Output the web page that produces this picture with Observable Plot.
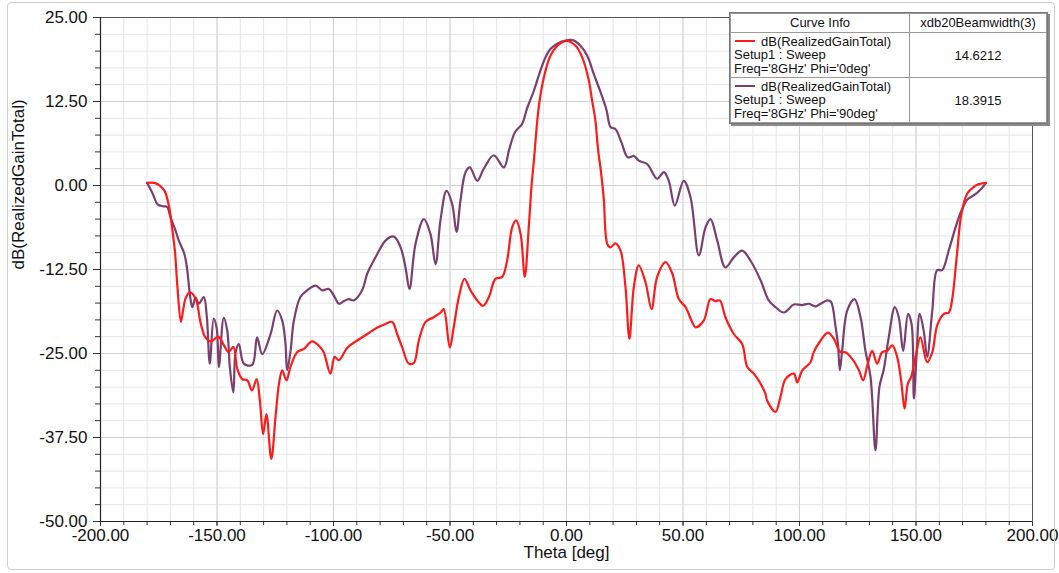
<!DOCTYPE html>
<html>
<head>
<meta charset="utf-8">
<script src="https://cdn.jsdelivr.net/npm/d3@7"></script>
<script src="https://cdn.jsdelivr.net/npm/@observablehq/plot@0.6"></script>
<style>
  html, body { margin: 0; padding: 0; background: #fff; }
  #wrap { position: relative; width: 1059px; height: 573px; overflow: hidden; font-family: "Liberation Sans", Arial, sans-serif; }
  #outer { position: absolute; left: 7px; top: 2px; width: 1046px; height: 566px; border: 1px solid #cfcfcf; border-radius: 4px; pointer-events: none; }
  #legend { position: absolute; left: 729px; top: 12px; background: #fff; border: 1px solid #777; box-shadow: 2px 2px 0 #8a8a8a; }
  #legend table { border-collapse: collapse; font-size: 13px; color: #111; }
  #legend td { border: 1px solid #9a9a9a; padding: 0 3px; }
  #legend .hdr td { height: 18px; text-align: center; line-height: 18px; }
  #legend .row td { height: 44px; }
  #legend .info { line-height: 13.5px; width: 172px; white-space: nowrap; }
  #legend .val { text-align: center; width: 130px; }
  #legend .sw { display: inline-block; width: 20px; height: 2px; vertical-align: middle; margin: 0 6px 0 1px; position: relative; top: -1px; }
</style>
</head>
<body>
<div id="wrap">
  <div id="chart"></div>
  <div id="outer"></div>
  <div id="legend"></div>
</div>
<script>
// ---- Data ----
const seriesNames = ["Freq='8GHz' Phi='0deg'", "Freq='8GHz' Phi='90deg'"];
const beamwidths = ["14.6212", "18.3915"];
const seriesColors = ["#ff1a1a", "#7b3f6f"];

const thetaPhi0 = [-180,-177,-175,-172.5,-170.5,-169,-168,-167,-165.5,-164.5,-163.5,-161.7,-159.2,-157,-155,-152.5,-149.5,-147,-145,-143,-141.3,-139.2,-137,-135,-133,-131.6,-130.2,-128.8,-126.7,-124.9,-123.4,-122,-120.2,-118.5,-115.6,-112.7,-109.2,-105.6,-104.2,-101.3,-99.5,-97.7,-94,-90,-85.5,-81,-77.7,-74.8,-72.7,-70.5,-67.7,-65.5,-63.4,-60.5,-57,-54,-52.7,-50.1,-48.4,-46.2,-43.8,-41.2,-38.3,-35.8,-33.3,-30.5,-27.6,-25.5,-23.3,-21.6,-19.7,-17.9,-16.2,-15,-14,-11.9,-9.7,-6.9,-3.3,0,3.9,6.7,9.6,11,12.4,13.5,14.8,16,17.5,18.9,21,23.2,25.3,27,28.9,31,33.9,36.5,38.9,42.5,45.4,48.2,51.1,53.9,55.4,58.9,61.8,63.9,65.8,68.2,71.8,75.4,77.6,80.4,83.3,85.4,86.1,89.7,91.8,94,97.6,99,101.2,104.7,106.1,109,112.2,114.7,117.6,119.7,122.6,125.5,127.3,129.3,131.2,133.3,135.5,137.6,139.8,141.9,143.6,145.1,146.5,147.9,149.8,151.9,154.8,157,159.1,162,164.1,165.5,167.5,169.5,172,174.8,177,180];
const gainPhi0 = [0.4,0.4,0.1,-0.8,-3.3,-7,-10,-15,-20.3,-18.5,-16.8,-15.9,-16.8,-20.5,-22.6,-23.2,-22.5,-23.8,-24.8,-24.0,-27.3,-28.8,-29.0,-30.5,-28.8,-32,-37,-34,-40.7,-34.5,-29.5,-27.5,-29,-27,-24.8,-24.3,-23.2,-24.1,-24.8,-28,-25.5,-26,-24.1,-23.1,-22.1,-21.1,-20.6,-20.3,-22.1,-24.1,-26.5,-26.4,-23.1,-20.3,-19.6,-18.9,-18.4,-24.1,-21.1,-16.6,-13.9,-15.6,-17.1,-17.9,-16.6,-13.9,-13.6,-11.2,-6.2,-5.2,-7.2,-13.6,-6.2,0,3.7,11.7,16.1,19.3,21.0,21.5,20.8,19.1,15.6,12.6,9.7,5.5,2,-2,-8.7,-9.2,-8.6,-9.7,-15.1,-22.8,-15.1,-11.9,-14.4,-18.4,-13.6,-11.4,-13.1,-16.9,-18.1,-20.3,-21.1,-20.1,-16.9,-17.2,-17.1,-19.6,-22.1,-23.6,-27,-28,-29.5,-31,-32,-33.7,-31.5,-28.8,-28,-29.3,-27.5,-26.3,-24.8,-23.1,-21.9,-22.8,-24.8,-24.8,-25.8,-27.5,-29,-26.5,-24.6,-26.5,-24.8,-24.6,-23.8,-25.5,-29,-33.2,-29.5,-28.5,-25.5,-22.6,-26.3,-24.8,-20.8,-19.1,-18.9,-17,-10.5,-4.2,-1.2,-0.2,0.2,0.4];

const thetaPhi90 = [-180,-177.5,-175.5,-173,-171.4,-170,-168,-166.4,-164,-162.8,-161.7,-160.6,-159.2,-157.8,-155.7,-154.4,-153.1,-151.4,-150.1,-149.2,-147.1,-145.6,-144.5,-143,-142,-140.6,-138.5,-134.9,-132.8,-130.6,-127,-124.2,-122,-120.6,-119.9,-118.5,-117,-114.2,-111.3,-107.7,-104.8,-102,-99.5,-97.7,-95.5,-93.4,-91.3,-87.7,-85.5,-81.2,-77.7,-74.1,-71.2,-69.1,-67.4,-64.8,-61.2,-58.4,-56.2,-54.1,-51.5,-49.1,-47.2,-45.5,-43.3,-41.5,-38.3,-35.5,-31.2,-26.9,-24.5,-22,-19,-16.9,-14,-11.2,-9,-6.9,-4,0,3,6,8.9,11.7,14.6,17.2,18.9,21,23.5,26.3,29,31,34.6,38.9,41.8,43.9,46.5,50.3,53.2,56.8,59.7,61.8,64.7,68.2,71.8,75.4,79,83.3,86.8,89.7,93.3,97.6,101,104,107,109,112,113.5,115.5,116.5,117.3,118.3,120.5,123.6,126.2,128.3,130.5,132.6,134.3,136.2,138.3,140.9,142.6,144.5,146.6,148.1,149.1,150.2,151.6,153.3,154.8,157,159.1,161.2,164.1,167,169.1,172,175.5,178,180];
const gainPhi90 = [0.4,-1.3,-2.8,-3.1,-3.2,-4.7,-6.5,-8.2,-10.2,-12.5,-16.0,-18.1,-16.7,-17.6,-16.6,-19.4,-26.5,-19.8,-21.3,-27,-19.7,-21.6,-27,-30.8,-24.8,-23.6,-26.5,-26.7,-22.6,-25.1,-22.1,-18.6,-20.1,-23.6,-27.5,-24.8,-20.1,-16.6,-15.6,-14.9,-15.6,-15.4,-16.6,-17.6,-17.2,-16.9,-17.1,-15.6,-13.1,-10.2,-8.2,-7.6,-9.2,-12.2,-15.4,-8.7,-5.0,-7.2,-11.7,-5.2,-0.8,-2.7,-6.9,-2.2,2.0,2.7,0.7,2.5,4.5,2.7,5.5,8.0,9.2,11.5,14.1,17.1,19.1,20.3,21.1,21.6,21.6,20.8,19.3,16.6,13.9,11.2,8.7,8.4,6.5,4.2,4.4,3.7,3.2,1.0,2.0,0.7,-3.0,0.7,-1.7,-10.4,-6.2,-5.0,-8.2,-12.2,-10.7,-9.7,-11.2,-14.1,-17.1,-18.1,-18.9,-17.7,-17.8,-17.6,-18.0,-17.6,-17.1,-17.3,-21.1,-23.6,-27.5,-24.6,-18.6,-16.9,-19.6,-24.6,-28.5,-39.4,-30,-27.3,-22.6,-18.1,-19.6,-24.6,-19.1,-20.6,-31.7,-25.5,-19.1,-21.6,-25.5,-18.6,-12.6,-12.6,-9.6,-6.2,-4.1,-2.1,-1.3,-0.5,0.4];

const xTickValues = [-200,-150,-100,-50,0,50,100,150,200];
const yTickValues = [25,12.5,0,-12.5,-25,-37.5,-50];
const xLabel = "Theta [deg]";
const yLabel = "dB(RealizedGainTotal)";

// ---- Build ----
const phi0 = thetaPhi0.map((t, i) => ({theta: t, gain: gainPhi0[i]}));
const phi90 = thetaPhi90.map((t, i) => ({theta: t, gain: gainPhi90[i]}));
const xMinor = d3.range(-200, 201, 10);
const yMinor = d3.range(-50, 25.01, 2.5);
const fmt = d => d.toFixed(2);
const blank = () => "";
const font = "Liberation Sans, Arial, sans-serif";

const chart = Plot.plot({
  width: 1059,
  height: 573,
  marginLeft: 100,
  marginRight: 27,
  marginTop: 17,
  marginBottom: 52,
  style: {fontFamily: font, background: "transparent", color: "#111"},
  x: {domain: [-200, 200]},
  y: {domain: [-50, 25]},
  marks: [
    Plot.gridX(xMinor, {stroke: "#e6e6e6", strokeOpacity: 1}),
    Plot.gridY(yMinor, {stroke: "#e6e6e6", strokeOpacity: 1}),
    Plot.gridX(xTickValues, {stroke: "#d2d2d2", strokeOpacity: 1}),
    Plot.gridY(yTickValues, {stroke: "#d2d2d2", strokeOpacity: 1}),
    Plot.axisX(xMinor, {tickSize: 4, tickFormat: blank, label: null, stroke: "#333"}),
    Plot.axisY(yMinor, {tickSize: 5, tickFormat: blank, label: null, stroke: "#333"}),
    Plot.axisX(xTickValues, {tickSize: 5, tickPadding: 2, tickFormat: fmt, label: null, fontSize: 17, stroke: "#333", fill: "#111"}),
    Plot.axisY(yTickValues, {tickSize: 7, tickPadding: 6, tickFormat: fmt, label: null, fontSize: 17, stroke: "#333", fill: "#111"}),
    Plot.frame({stroke: "#555"}),
    Plot.ruleX([-200], {stroke: "#222", strokeWidth: 1.2}),
    Plot.ruleY([-50], {stroke: "#222", strokeWidth: 1.2}),
    Plot.line(phi90, {x: "theta", y: "gain", stroke: seriesColors[1], strokeWidth: 2.2, curve: "catmull-rom"}),
    Plot.line(phi0, {x: "theta", y: "gain", stroke: seriesColors[0], strokeWidth: 2.2, curve: "catmull-rom"}),
    Plot.text([xLabel], {frameAnchor: "bottom", dy: 36, fontSize: 17, fill: "#111"}),
    Plot.text([yLabel], {frameAnchor: "left", dx: -82, rotate: -90, fontSize: 17, fill: "#111"})
  ]
});
document.getElementById("chart").appendChild(chart);

// ---- Legend table ----
const legendEl = document.getElementById("legend");
let html = '<table><tr class="hdr"><td>Curve Info</td><td>xdb20Beamwidth(3)</td></tr>';
seriesNames.forEach((name, i) => {
  html += '<tr class="row"><td class="info"><span class="sw" style="background:' + seriesColors[i] + '"></span>' + yLabel +
    '<br>Setup1 : Sweep<br>' + name + '</td><td class="val">' + beamwidths[i] + '</td></tr>';
});
html += '</table>';
legendEl.innerHTML = html;
</script>
</body>
</html>
